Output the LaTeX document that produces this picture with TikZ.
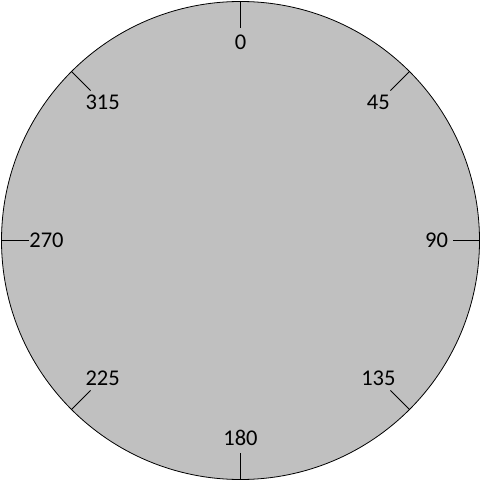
\documentclass[tikz,border=0pt]{standalone}
\usepackage{fontspec}
\setmainfont{Carlito}
\usetikzlibrary{calc}
\definecolor{dialgray}{RGB}{192,192,192}
\begin{document}
\begin{tikzpicture}[x=1pt,y=-1pt,
  dial/.style={draw=black,line width=0.8pt,fill=dialgray},
  tickline/.style={draw=black,line width=0.8pt},
  lbl/.style={inner sep=0pt,text height=14.3pt,text depth=0pt,font=\fontsize{22.5}{26}\selectfont}]
\useasboundingbox (0,0) rectangle (481,481);
\coordinate (c) at (240.5,240.5);
\draw[dial] (c) circle[radius=239];
\foreach \a/\t/\r in {0/0/198,45/45/195,90/90/196,135/135/195,180/180/198,225/225/195,270/270/194,315/315/195}{
  \coordinate (o\t) at ($(c)+({239*sin(\a)},{-239*cos(\a)})$);
  \coordinate (i\t) at ($(c)+({212*sin(\a)},{-212*cos(\a)})$);
  \draw[tickline] (o\t) -- (i\t);
  \node[lbl] (l\t) at ($(c)+({\r*sin(\a)},{-\r*cos(\a)})$) {\t};
}
\end{tikzpicture}
\end{document}
